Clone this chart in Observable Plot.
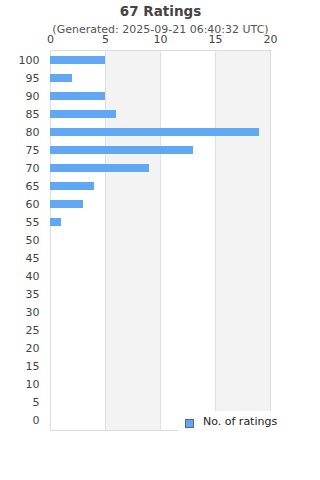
<!DOCTYPE html>
<html>
<head>
<meta charset="utf-8">
<script src="https://cdn.jsdelivr.net/npm/d3@7"></script>
<script src="https://cdn.jsdelivr.net/npm/@observablehq/plot@0.6"></script>
<style>
  body { margin: 0; background: #fff; font-family: "DejaVu Sans", sans-serif; }
  #wrap { position: relative; width: 320px; height: 480px; }
  #legend { position: absolute; left: 178px; top: 411px; width: 142px; height: 30px; background: #fff; }
  #legend .sw { position: absolute; left: 7px; top: 8px; width: 7px; height: 7px; background: #61a8f4; border: 1px solid #666; }
  #legend .lb { position: absolute; left: 25px; top: 4px; font-size: 11px; color: #222; white-space: nowrap; }
</style>
</head>
<body>
<div id="wrap"></div>
<script>
const title = "67 Ratings";
const subtitle = "(Generated: 2025-09-21 06:40:32 UTC)";
const seriesName = "No. of ratings";
const categories = ["100","95","90","85","80","75","70","65","60","55","50","45","40","35","30","25","20","15","10","5","0"];
const counts = [5, 2, 5, 6, 19, 13, 9, 4, 3, 1, 0, 0, 0, 0, 0, 0, 0, 0, 0, 0, 0];
const xTicks = [0, 5, 10, 15, 20];
const shadedBands = [[5, 10], [15, 20]];
const gridLines = [5, 10, 15];

const data = categories.map((c, i) => ({ score: c, count: counts[i] }));

const chart = Plot.plot({
  width: 320,
  height: 480,
  marginLeft: 50,
  marginRight: 50,
  marginTop: 50,
  marginBottom: 50,
  style: { fontFamily: "DejaVu Sans, sans-serif", fontSize: "11px", color: "#444", background: "#fff" },
  x: { domain: [0, 20] },
  y: { domain: categories, paddingInner: 0.55, paddingOuter: 0.275 },
  marks: [
    Plot.rect(shadedBands, { x1: d => d[0], x2: d => d[1], fill: "#f3f3f3" }),
    Plot.ruleX(gridLines, { stroke: "#e0e0e0" }),
    Plot.frame({ stroke: "#dcdcdc" }),
    Plot.barX(data.filter(d => d.count > 0), { y: "score", x: "count", fill: "#61a8f4" }),
    Plot.axisX(xTicks, { anchor: "top", tickSize: 0, tickPadding: 8, fontSize: 11, fill: "#444", label: null }),
    Plot.axisY({ tickSize: 0, tickPadding: 11, fontSize: 11, fill: "#444", label: null }),
    Plot.text([title], { text: d => d, frameAnchor: "top", dy: -44, fontSize: 13.5, fontWeight: "bold", fill: "#444" }),
    Plot.text([subtitle], { text: d => d, frameAnchor: "top", dy: -25, fontSize: 11, fill: "#555" })
  ]
});

const wrap = document.getElementById("wrap");
wrap.appendChild(chart);
const lg = document.createElement("div");
lg.id = "legend";
lg.innerHTML = '<div class="sw"></div><div class="lb"></div>';
lg.querySelector(".lb").textContent = seriesName;
wrap.appendChild(lg);
</script>
</body>
</html>
